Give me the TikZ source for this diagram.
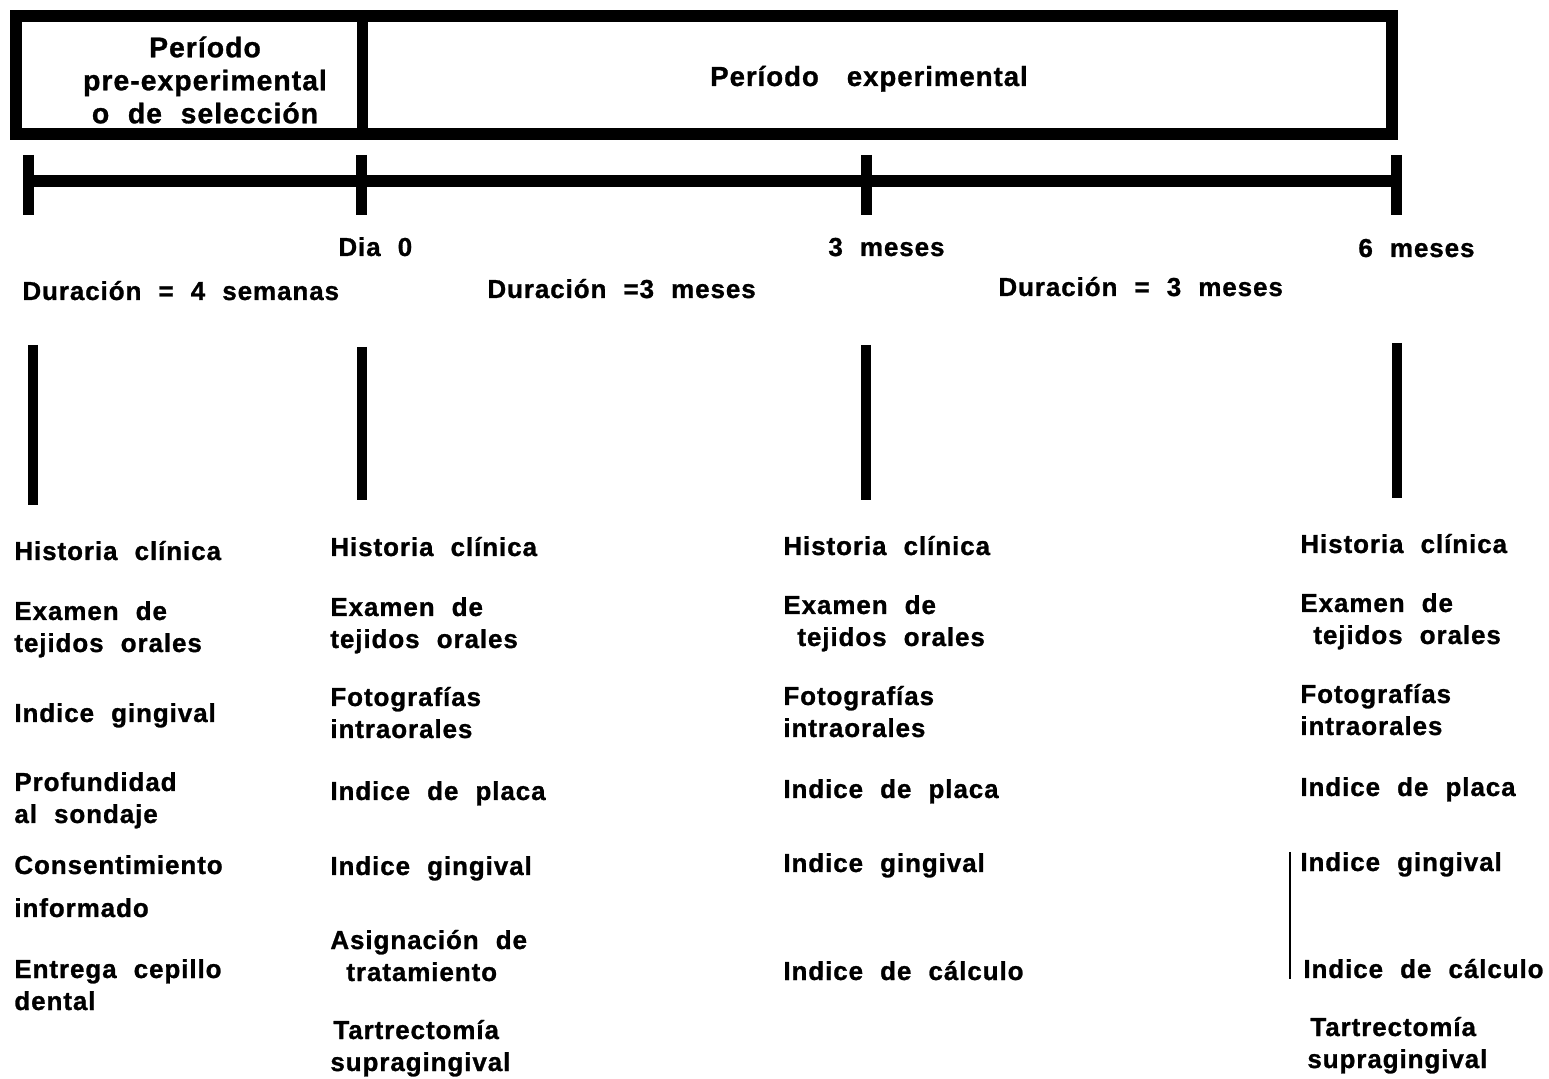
\documentclass[tikz,border=0pt]{standalone}
\usepackage{fontspec}
\newfontfamily\lblfont{Liberation Sans}[LetterSpace=3.5,WordSpace=2.1,FakeBold=1]
\newcommand{\lbl}{\lblfont\bfseries\fontsize{13}{16}\selectfont}
\newcommand{\boxlbl}{\lblfont\bfseries\fontsize{14.2}{16.5}\selectfont}

\begin{document}
\begin{tikzpicture}[x=0.5pt,y=-0.5pt,
	item/.style={anchor=base west,inner sep=0pt,align=left,font=\lbl},
	ctext/.style={anchor=base,inner sep=0pt,font=\lbl},
	bar/.style={line width=5pt}]
	\useasboundingbox (0,0) rectangle (1549,1079);
	% top box
	\draw [line width=6pt] (16,16) rectangle (1392,134);
	\draw [line width=5.5pt] (362,16) -- (362,134);
	\node [inner sep=0pt,align=center,font=\boxlbl] (pre) at (205,80) {Período\\pre-experimental\\o de selección};
	\node [ctext,font=\lblfont\bfseries\fontsize{13.8}{16}\selectfont] (exp) at (869,86) {Período\hspace{14pt}experimental};
	% time line
	\coordinate (t0) at (28,181);
	\coordinate (t1) at (361,181);
	\coordinate (t2) at (866,181);
	\coordinate (t3) at (1396,181);
	\draw [line width=6pt] (t0) -- (t3);
	\foreach \t in {t0,t1,t2,t3}
		\draw [line width=5.5pt] ([yshift=13pt]\t) -- ([yshift=-17pt]\t);
	\node [item] (d0) at (338,256) {Dia 0};
	\node [item] (m3) at (828,256) {3 meses};
	\node [item] (m6) at (1358,257) {6 meses};
	\node [item] (dur1) at (22,300) {Duración = 4 semanas};
	\node [item] (dur2) at (487,298) {Duración =3 meses};
	\node [item] (dur3) at (998,296) {Duración = 3 meses};
	% vertical bars
	\draw [bar] (33,345) -- (33,505);
	\draw [bar] (362,347) -- (362,500);
	\draw [bar] (866,345) -- (866,500);
	\draw [bar] (1397,343) -- (1397,498);
	% column 1 (y = baseline of last line)
	\node [item] (a1) at (14,560) {Historia clínica};
	\node [item] (a2) at (14,652) {Examen de\\tejidos orales};
	\node [item] (a3) at (14,722) {Indice gingival};
	\node [item] (a4) at (14,823) {Profundidad\\al sondaje};
	\node [item] (a5) at (14,917) {Consentimiento\\[5.5pt]informado};
	\node [item] (a6) at (14,1010) {Entrega cepillo\\dental};
	% column 2
	\node [item] (b1) at (330,556) {Historia clínica};
	\node [item] (b2) at (330,648) {Examen de\\tejidos orales};
	\node [item] (b3) at (330,738) {Fotografías\\intraorales};
	\node [item] (b4) at (330,800) {Indice de placa};
	\node [item] (b5) at (330,875) {Indice gingival};
	\node [item] (b6) at (330,981) {Asignación de\\\hspace{8pt}tratamiento};
	\node [item] (b7) at (333,1071) {Tartrectomía\\[0pt]\hspace{-1.5pt}supragingival};
	% column 3
	\node [item] (c1) at (783,555) {Historia clínica};
	\node [item] (c2) at (783,646) {Examen de\\\hspace{7pt}tejidos orales};
	\node [item] (c3) at (783,737) {Fotografías\\intraorales};
	\node [item] (c4) at (783,798) {Indice de placa};
	\node [item] (c5) at (783,872) {Indice gingival};
	\node [item] (c6) at (783,980) {Indice de cálculo};
	% column 4
	\node [item] (e1) at (1300,553) {Historia clínica};
	\node [item] (e2) at (1300,644) {Examen de\\\hspace{6.5pt}tejidos orales};
	\node [item] (e3) at (1300,735) {Fotografías\\intraorales};
	\node [item] (e4) at (1300,796) {Indice de placa};
	\node [item] (e5) at (1300,871) {Indice gingival};
	\node [item] (e6) at (1303,978) {Indice de cálculo};
	\node [item] (e7) at (1310,1068) {Tartrectomía\\[0pt]\hspace{-1.5pt}supragingival};
	\draw [line width=1pt] ([xshift=-5pt]e5.north west) -- ([xshift=-5pt]e5.north west |- e6.south west);
\end{tikzpicture}
\end{document}
